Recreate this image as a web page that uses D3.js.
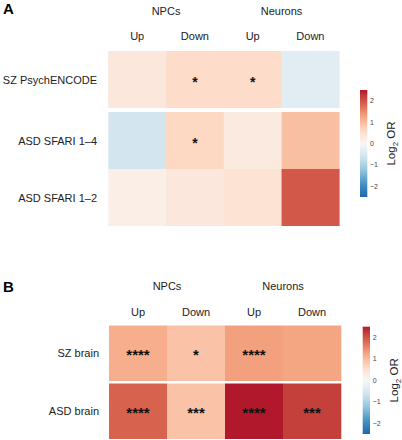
<!DOCTYPE html>
<html><head><meta charset="utf-8">
<script src="https://cdn.jsdelivr.net/npm/d3@7"></script>
<style>body{margin:0;background:#fff}text{font-family:"Liberation Sans",Arial,sans-serif}</style>
</head><body><svg id="c" width="402" height="440"></svg>
<script>
const groups = ["NPCs", "Neurons"];
const columns = ["Up", "Down", "Up", "Down"];
const rowsA = ["SZ PsychENCODE", "ASD SFARI 1–4", "ASD SFARI 1–2"];
const valuesA = [[0.35, 0.6, 0.6, -0.35], [-0.6, 0.65, 0.3, 0.95], [0.2, 0.35, 0.45, 1.95]];
const starsA = [["", "*", "*", ""], ["", "*", "", ""], ["", "", "", ""]];
const rowsB = ["SZ brain", "ASD brain"];
const valuesB = [[1.15, 0.9, 1.3, 1.25], [1.85, 0.9, 2.5, 2.2]];
const starsB = [["****", "*", "****", ""], ["****", "***", "****", "***"]];
const legendTicks = [2, 1, 0, -1, -2];
const palette = ["#2166ac", "#4393c3", "#92c5de", "#d1e5f0", "#f7f7f7", "#fddbc7", "#f4a582", "#d6604d", "#b2182b"];

const svg = d3.select("#c");
const color = d3.scaleLinear()
  .domain(d3.range(palette.length).map(i => -2.5 + i * 5 / (palette.length - 1)))
  .range(palette).interpolate(d3.interpolateLab).clamp(true);

const defs = svg.append("defs");
const grad = defs.append("linearGradient").attr("id", "lg").attr("x1", 0).attr("x2", 0).attr("y1", 0).attr("y2", 1);
d3.range(0, 1.0001, 0.05).forEach(t => grad.append("stop").attr("offset", t).attr("stop-color", color(2.5 - 5 * t)));

function panel(cfg) {
  const g = svg.append("g");
  const x = d3.scaleBand().domain(d3.range(columns.length)).range([cfg.x0, cfg.x1]);
  const rh = cfg.rowH;
  const yTop = i => cfg.y0 + i * rh + (i >= cfg.split ? cfg.gap : 0);
  g.append("text").attr("x", 3).attr("y", cfg.letterY).attr("font-size", 15).attr("font-weight", "bold").text(cfg.letter);
  groups.forEach((gr, k) => {
    g.append("text").attr("x", x(2 * k + 1)).attr("y", cfg.groupY).attr("text-anchor", "middle")
      .attr("font-size", 11).attr("fill", "#222").text(gr);
  });
  columns.forEach((c, j) => {
    g.append("text").attr("x", x(j) + x.bandwidth() / 2).attr("y", cfg.colY).attr("text-anchor", "middle")
      .attr("font-size", 11).attr("fill", "#222").text(c);
  });
  cfg.rows.forEach((r, i) => {
    g.append("text").attr("x", cfg.labelX).attr("y", yTop(i) + rh / 2 + 4).attr("text-anchor", "end")
      .attr("font-size", 11).attr("fill", "#222").text(r);
    cfg.values[i].forEach((v, j) => {
      g.append("rect").attr("x", x(j)).attr("y", yTop(i)).attr("width", x.bandwidth() + 0.3).attr("height", rh + (i + 1 < cfg.rows.length && i + 1 !== cfg.split ? 0.3 : 0))
        .attr("fill", color(v));
      const s = cfg.stars[i][j];
      if (s) g.append("text").attr("x", x(j) + x.bandwidth() / 2).attr("y", yTop(i) + rh / 2 + cfg.starDy)
        .attr("text-anchor", "middle").attr("font-size", cfg.starSize).attr("font-weight", "bold").attr("fill", "#111").text(s);
    });
  });
  const ly = d3.scaleLinear().domain([2.5, -2.5]).range([cfg.legY0, cfg.legY1]);
  g.append("rect").attr("x", cfg.legX).attr("y", cfg.legY0).attr("width", 7.3).attr("height", cfg.legY1 - cfg.legY0).attr("fill", "url(#lg)");
  legendTicks.forEach(t => {
    g.append("text").attr("x", cfg.legX + 10).attr("y", ly(t) + 2.5).attr("font-size", 7).attr("fill", "#444")
      .text(t < 0 ? "\u2212" + Math.abs(t) : t);
  });
  const lt = g.append("text").attr("transform", `translate(${cfg.titleX},${ly(0)}) rotate(-90)`)
    .attr("text-anchor", "middle").attr("font-size", 11.5).attr("fill", "#222");
  lt.append("tspan").text("Log");
  lt.append("tspan").attr("font-size", 8).attr("dy", 3).text("2");
  lt.append("tspan").attr("dy", -3).text(" OR");
}

panel({letter: "A", letterY: 14, groupY: 15, colY: 40, x0: 108.3, x1: 339.3, y0: 51, rowH: 57, gap: 4, split: 1,
  rows: rowsA, values: valuesA, stars: starsA, labelX: 97, starDy: 7, starSize: 14,
  legX: 360, legY0: 90, legY1: 197, titleX: 395});
panel({letter: "B", letterY: 292, groupY: 290, colY: 316, x0: 109, x1: 341, y0: 325.5, rowH: 55.5, gap: 2.5, split: 1,
  rows: rowsB, values: valuesB, stars: starsB, labelX: 99, starDy: 7, starSize: 15,
  legX: 362.7, legY0: 326.7, legY1: 434, titleX: 398});
</script></body></html>
